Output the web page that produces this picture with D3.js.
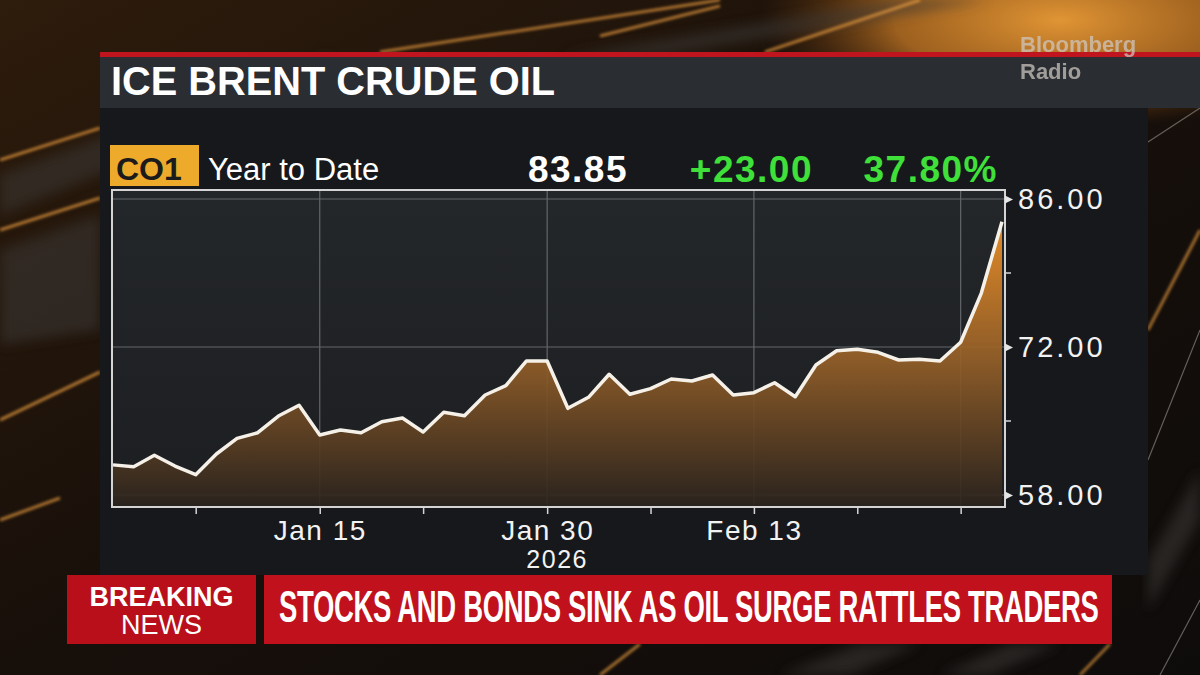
<!DOCTYPE html>
<html>
<head>
<meta charset="utf-8">
<script src="https://cdn.jsdelivr.net/npm/d3@7"></script>
<style>
  html, body { margin: 0; padding: 0; background: #120d09; }
  svg { display: block; font-family: "Liberation Sans", Arial, Helvetica, sans-serif; }
</style>
</head>
<body>
<svg id="chart" width="1200" height="675"></svg>
<script>
// trading days, Dec 31 base + 2026 YTD
const dates = [
  "2025-12-31", "2026-01-02", "2026-01-05", "2026-01-06", "2026-01-07", "2026-01-08", "2026-01-09",
  "2026-01-12", "2026-01-13", "2026-01-14", "2026-01-15", "2026-01-16",
  "2026-01-19", "2026-01-20", "2026-01-21", "2026-01-22", "2026-01-23",
  "2026-01-26", "2026-01-27", "2026-01-28", "2026-01-29", "2026-01-30",
  "2026-02-02", "2026-02-03", "2026-02-04", "2026-02-05", "2026-02-06",
  "2026-02-09", "2026-02-10", "2026-02-11", "2026-02-12", "2026-02-13",
  "2026-02-16", "2026-02-17", "2026-02-18", "2026-02-19", "2026-02-20",
  "2026-02-23", "2026-02-24", "2026-02-25", "2026-02-26", "2026-02-27",
  "2026-03-02", "2026-03-03"
];
const prices = [
  60.85, 60.68, 61.76, 60.74, 59.92, 61.88, 63.36,
  63.89, 65.47, 66.49, 63.68, 64.15,
  63.89, 64.93, 65.28, 63.96, 65.82,
  65.50, 67.46, 68.34, 70.68, 70.68,
  66.20, 67.24, 69.42, 67.53, 68.06,
  68.97, 68.78, 69.35, 67.46, 67.68,
  68.62, 67.30, 70.30, 71.65, 71.78,
  71.50, 70.77, 70.84, 70.68, 72.45,
  77.10, 83.85
];

const gridDates = ["2026-01-15", "2026-01-30", "2026-02-13", "2026-02-27"];
const minorDates = ["2026-01-07", "2026-01-22", "2026-02-06", "2026-02-20"];
const labelDates = ["2026-01-15", "2026-01-30", "2026-02-13"];
const labelNames = ["Jan 15", "Jan 30", "Feb 13"];
const yearLabel = "2026";

const yTicks = [58, 72, 86];
const yMinor = [65, 79];

const title = "ICE BRENT CRUDE OIL";
const ticker = "CO1";
const period = "Year to Date";
const lastPrice = "83.85";
const netChange = "+23.00";
const pctChange = "37.80%";
const headline = "STOCKS AND BONDS SINK AS OIL SURGE RATTLES TRADERS";

const svg = d3.select("#chart");
const defs = svg.append("defs");

// ---- background -----------------------------------------------------------
const bgGrad = defs.append("linearGradient").attr("id", "bgGrad")
  .attr("x1", 0).attr("y1", 0).attr("x2", 1).attr("y2", 1);
bgGrad.append("stop").attr("offset", 0).attr("stop-color", "#2e1c0c");
bgGrad.append("stop").attr("offset", 0.5).attr("stop-color", "#170f0a");
bgGrad.append("stop").attr("offset", 1).attr("stop-color", "#0e0c0b");

const glow = defs.append("radialGradient").attr("id", "glow");
glow.append("stop").attr("offset", 0).attr("stop-color", "#e09434").attr("stop-opacity", 1);
glow.append("stop").attr("offset", 0.55).attr("stop-color", "#b46e22").attr("stop-opacity", 0.85);
glow.append("stop").attr("offset", 1).attr("stop-color", "#6a3a10").attr("stop-opacity", 0);

defs.append("filter").attr("id", "blur").append("feGaussianBlur").attr("stdDeviation", 1.6);
defs.append("filter").attr("id", "blurWide").append("feGaussianBlur").attr("stdDeviation", 6);

const bg = svg.append("g");
bg.append("rect").attr("width", 1200).attr("height", 675).attr("fill", "url(#bgGrad)");
bg.append("ellipse").attr("cx", 1060).attr("cy", 20).attr("rx", 300).attr("ry", 110)
  .attr("fill", "url(#glow)");

// grey diagonal bands
const bands = [
  "M0,175 L330,55 L330,80 L0,215 Z",
  "M0,250 L100,215 L100,330 L0,345 Z",
  "M560,56 L900,0 L990,0 L660,56 Z",
  "M780,675 L860,644 L920,644 L850,675 Z",
  "M940,675 L1010,644 L1060,644 L990,675 Z",
  "M1148,560 L1200,470 L1200,520 L1148,610 Z"
];
bg.selectAll("path.band").data(bands).join("path").attr("class", "band")
  .attr("d", d => d).attr("fill", "#3b3835").attr("opacity", 0.55)
  .attr("filter", "url(#blurWide)");

// orange light streaks
const streaks = [
  [[0, 160], [100, 128]],
  [[0, 230], [100, 198]],
  [[0, 420], [100, 372]],
  [[0, 520], [60, 498]],
  [[380, 52], [720, 0]],
  [[600, 36], [720, 6]],
  [[765, 52], [920, 0]],
  [[1148, 330], [1200, 230]],
  [[600, 675], [640, 644]],
  [[1080, 675], [1110, 644]]
];
bg.selectAll("line.streak").data(streaks).join("line").attr("class", "streak")
  .attr("x1", d => d[0][0]).attr("y1", d => d[0][1])
  .attr("x2", d => d[1][0]).attr("y2", d => d[1][1])
  .attr("stroke", "#f0a040").attr("stroke-width", 2.5).attr("opacity", 0.8)
  .attr("filter", "url(#blur)");

// thin pale lines on the right edge
[[[1148, 142], [1200, 108]], [[1148, 460], [1200, 330]], [[1160, 675], [1200, 600]]].forEach(s => {
  bg.append("line")
    .attr("x1", s[0][0]).attr("y1", s[0][1]).attr("x2", s[1][0]).attr("y2", s[1][1])
    .attr("stroke", "#9a9590").attr("stroke-width", 1.2).attr("opacity", 0.6);
});

// ---- panel + title bar -----------------------------------------------------
svg.append("rect").attr("x", 100).attr("y", 108).attr("width", 1048).attr("height", 467)
  .attr("fill", "#16181b");
svg.append("rect").attr("x", 100).attr("y", 56).attr("width", 1100).attr("height", 52)
  .attr("fill", "#2a2d31");
svg.append("rect").attr("x", 100).attr("y", 52).attr("width", 1100).attr("height", 5)
  .attr("fill", "#c0141f");

svg.append("text").attr("x", 111).attr("y", 95)
  .attr("font-size", 41).attr("font-weight", "bold").attr("fill", "#ffffff")
  .attr("textLength", 444).attr("lengthAdjust", "spacingAndGlyphs")
  .text(title);

const logo = svg.append("g").attr("fill", "#cfc9c3").attr("opacity", 0.72)
  .attr("font-size", 22).attr("font-weight", "bold");
logo.append("text").attr("x", 1020).attr("y", 52).text("Bloomberg");
logo.append("text").attr("x", 1020).attr("y", 79).text("Radio");

// ---- header row ------------------------------------------------------------
svg.append("rect").attr("x", 110).attr("y", 145).attr("width", 89).attr("height", 41)
  .attr("fill", "#eeaa2a");
svg.append("text").attr("x", 116).attr("y", 180)
  .attr("font-size", 32).attr("font-weight", "bold").attr("fill", "#1b1b1b")
  .text(ticker);
svg.append("text").attr("x", 208).attr("y", 180)
  .attr("font-size", 31).attr("fill", "#ffffff")
  .text(period);

const stats = [
  {text: lastPrice, x: 628, color: "#ffffff"},
  {text: netChange, x: 813, color: "#3fe03a"},
  {text: pctChange, x: 998, color: "#3fe03a"}
];
svg.selectAll("text.stat").data(stats).join("text").attr("class", "stat")
  .attr("x", d => d.x).attr("y", 182)
  .attr("text-anchor", "end")
  .attr("font-size", 37).attr("font-weight", "bold").attr("letter-spacing", 1.5)
  .attr("fill", d => d.color)
  .text(d => d.text);

// ---- chart -----------------------------------------------------------------
const frame = {left: 112, right: 1005, top: 190, bottom: 507};

const x = d3.scalePoint().domain(dates).range([113, 1002]);
const y = d3.scaleLinear().domain([58, 86]).range([495, 199]);

const plotGrad = defs.append("linearGradient").attr("id", "plotGrad")
  .attr("x1", 0).attr("y1", 0).attr("x2", 0).attr("y2", 1);
plotGrad.append("stop").attr("offset", 0).attr("stop-color", "#24272a");
plotGrad.append("stop").attr("offset", 1).attr("stop-color", "#1c1e21");

svg.append("rect")
  .attr("x", frame.left).attr("y", frame.top)
  .attr("width", frame.right - frame.left).attr("height", frame.bottom - frame.top)
  .attr("fill", "url(#plotGrad)");

// gridlines
svg.append("g").selectAll("line").data(yTicks).join("line")
  .attr("x1", frame.left).attr("x2", frame.right)
  .attr("y1", d => y(d)).attr("y2", d => y(d))
  .attr("stroke", "#63666a").attr("stroke-width", 1.2);
svg.append("g").selectAll("line").data(gridDates).join("line")
  .attr("x1", d => x(d)).attr("x2", d => x(d))
  .attr("y1", frame.top).attr("y2", frame.bottom)
  .attr("stroke", "#63666a").attr("stroke-width", 1.2);

const areaGrad = defs.append("linearGradient").attr("id", "areaGrad")
  .attr("gradientUnits", "userSpaceOnUse")
  .attr("x1", 0).attr("y1", y(84)).attr("x2", 0).attr("y2", frame.bottom);
areaGrad.append("stop").attr("offset", 0).attr("stop-color", "#f49428");
areaGrad.append("stop").attr("offset", 0.5).attr("stop-color", "#925e28");
areaGrad.append("stop").attr("offset", 1).attr("stop-color", "#2a231d");

const area = d3.area()
  .x((d, i) => x(dates[i]))
  .y0(frame.bottom)
  .y1(d => y(d));

const line = d3.line()
  .x((d, i) => x(dates[i]))
  .y(d => y(d));

svg.append("path").datum(prices)
  .attr("d", area)
  .attr("fill", "url(#areaGrad)")
  .attr("opacity", 0.92);

svg.append("path").datum(prices)
  .attr("d", line)
  .attr("fill", "none")
  .attr("stroke", "#f6f1e8")
  .attr("stroke-width", 3.5)
  .attr("stroke-linejoin", "round");

// frame
svg.append("rect")
  .attr("x", frame.left).attr("y", frame.top)
  .attr("width", frame.right - frame.left).attr("height", frame.bottom - frame.top)
  .attr("fill", "none").attr("stroke", "#d4d4d4").attr("stroke-width", 2);

// x axis
const xAxis = d3.axisBottom(x)
  .tickValues(minorDates.concat(gridDates).sort())
  .tickSize(7)
  .tickPadding(6)
  .tickFormat(d => {
    const k = labelDates.indexOf(d);
    return k < 0 ? "" : labelNames[k];
  });

const gx = svg.append("g")
  .attr("transform", `translate(0,${frame.bottom})`)
  .call(xAxis);
gx.select(".domain").remove();
gx.selectAll(".tick line").attr("stroke", "#d4d4d4").attr("stroke-width", 1.5);
gx.selectAll(".tick text")
  .attr("fill", "#f2f2f2")
  .attr("font-size", 28)
  .attr("letter-spacing", 1.5)
  .attr("font-family", "\"Liberation Sans\", Arial, sans-serif");

svg.append("text")
  .attr("x", x("2026-01-30") + 10).attr("y", 568)
  .attr("text-anchor", "middle")
  .attr("font-size", 25).attr("letter-spacing", 1.5).attr("fill", "#f2f2f2")
  .text(yearLabel);

// y axis on the right
const yAxis = d3.axisRight(y)
  .tickValues(yTicks)
  .tickSize(0)
  .tickPadding(13)
  .tickFormat(d3.format(".2f"));

const gy = svg.append("g")
  .attr("transform", `translate(${frame.right},0)`)
  .call(yAxis);
gy.select(".domain").remove();
gy.selectAll(".tick").append("path")
  .attr("d", "M0,-4L8,0L0,4Z")
  .attr("fill", "#e6e6e6");
gy.selectAll(".tick text")
  .attr("fill", "#f2f2f2")
  .attr("font-size", 29)
  .attr("letter-spacing", 3)
  .attr("font-family", "\"Liberation Sans\", Arial, sans-serif");

svg.append("g").selectAll("line").data(yMinor).join("line")
  .attr("x1", frame.right).attr("x2", frame.right + 6)
  .attr("y1", d => y(d)).attr("y2", d => y(d))
  .attr("stroke", "#d4d4d4").attr("stroke-width", 1.5);

// ---- breaking news banner --------------------------------------------------
svg.append("rect").attr("x", 67).attr("y", 575).attr("width", 189).attr("height", 69)
  .attr("fill", "#b80f1b");
svg.append("rect").attr("x", 264).attr("y", 575).attr("width", 848).attr("height", 69)
  .attr("fill", "#c0111d");

svg.append("text").attr("x", 161.5).attr("y", 606)
  .attr("text-anchor", "middle")
  .attr("font-size", 27).attr("font-weight", "bold").attr("fill", "#ffffff")
  .text("BREAKING");
svg.append("text").attr("x", 161.5).attr("y", 634)
  .attr("text-anchor", "middle")
  .attr("font-size", 27).attr("fill", "#ffffff")
  .text("NEWS");

// tall condensed headline: full-height glyphs squeezed horizontally to fit the bar
const head = svg.append("text")
  .attr("font-size", 44).attr("font-weight", "bold").attr("fill", "#ffffff")
  .attr("letter-spacing", -0.5)
  .text(headline);
const natural = head.node().getComputedTextLength();
head.attr("transform", `translate(279,622) scale(${820 / natural},1)`);
</script>
</body>
</html>
